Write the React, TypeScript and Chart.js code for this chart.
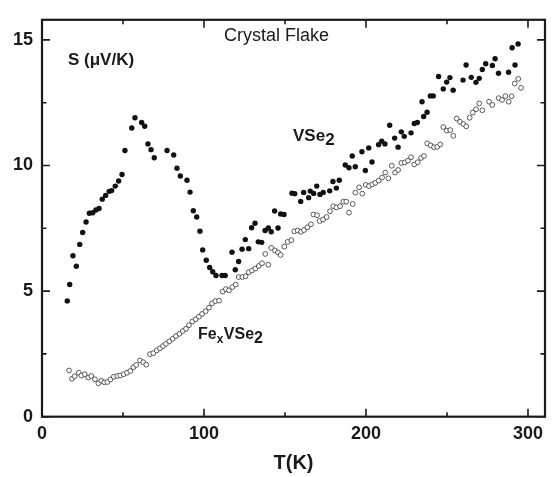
import React, { useEffect, useRef } from "react";
import { Chart, registerables } from "chart.js";
Chart.register(...registerables);

// VSe2 (filled circles)
const vse2T = [15.6,17.1,19.1,21.2,23.3,25.1,27.2,29.2,31.3,33.3,35.2,37.2,39.3,41.5,43.0,45.2,47.3,49.4,51.2,55.4,57.4,61.5,63.4,65.4,67.3,69.3,77.2,81.3,83.3,85.4,89.5,91.4,93.4,95.5,97.5,99.2,101.4,103.5,105.4,107.4,111.1,113.1,117.3,119.3,121.4,123.5,125.5,127.6,129.4,131.5,133.5,135.6,137.7,139.7,141.5,143.6,145.7,147.3,149.4,154.3,156.0,159.7,161.5,164.6,165.6,167.7,169.6,171.6,173.6,177.6,179.6,181.7,183.5,187.2,189.5,191.5,193.4,197.5,199.6,201.7,203.7,207.8,209.7,211.7,214.6,217.7,219.8,221.8,223.6,227.8,229.8,231.7,234.6,235.6,237.7,239.7,241.5,244.8,247.7,249.8,251.8,253.8,259.9,261.8,265.0,267.9,269.9,271.8,273.9,278.0,279.7,281.8,288.0,290.2,292.0,293.9];
const vse2S = [4.61,5.26,6.41,5.99,6.86,7.33,7.75,8.10,8.12,8.23,8.29,8.66,8.81,8.97,9.00,9.18,9.38,9.64,10.60,11.49,11.90,11.71,11.56,10.86,10.63,10.31,10.60,10.42,9.89,9.58,9.41,8.94,8.20,7.95,7.38,6.64,6.23,5.94,5.77,5.62,5.62,5.62,6.55,5.85,6.18,6.67,7.05,6.69,7.52,7.70,6.96,6.94,7.41,7.51,7.36,8.19,7.51,8.07,8.05,8.90,8.88,8.57,8.93,8.72,8.98,8.89,9.18,8.85,8.93,8.99,9.36,9.10,9.41,10.02,9.91,10.38,9.95,10.55,9.80,10.70,10.14,10.83,10.97,10.86,11.60,11.09,10.73,11.34,11.16,11.30,11.67,11.71,12.54,11.95,12.12,12.77,12.77,13.54,13.05,13.32,13.50,13.00,13.40,14.00,13.51,13.31,13.47,13.82,14.05,13.98,14.25,13.67,13.71,14.69,14.00,14.84];

// FexVSe2 (open circles)
const fexT = [16.7,18.5,20.2,22.7,24.3,26.4,28.6,30.4,32.7,34.8,36.6,38.5,40.3,42.2,44.3,46.5,48.3,50.4,52.5,54.5,56.4,58.2,60.5,62.5,64.4,66.7,68.7,70.8,72.8,74.7,76.5,78.6,80.7,82.7,84.8,86.9,88.9,90.7,92.8,94.9,96.9,98.8,101.0,103.1,104.9,107.0,109.3,111.5,113.5,115.4,117.5,119.6,121.4,123.7,125.7,127.6,129.6,131.7,133.8,135.8,137.8,139.7,141.5,143.8,145.7,147.3,149.6,151.7,153.9,155.7,157.8,159.9,161.7,163.8,166.0,167.5,169.8,171.4,173.5,175.7,177.8,179.8,181.7,184.0,186.0,187.8,189.5,191.8,193.4,195.8,197.7,199.8,201.9,203.9,205.7,207.8,209.9,211.9,213.8,215.9,217.9,219.8,221.8,223.9,225.9,227.8,229.8,231.9,234.0,235.8,237.8,239.9,242.0,244.0,245.9,247.7,249.8,252.0,253.9,256.0,258.0,260.1,261.9,264.0,265.9,267.9,269.9,271.8,276.0,278.0,281.9,284.0,286.0,288.1,289.9,291.8,294.0,295.7];
const fexS = [1.84,1.51,1.61,1.75,1.64,1.69,1.56,1.62,1.49,1.33,1.43,1.37,1.38,1.48,1.59,1.62,1.64,1.69,1.75,1.82,1.97,2.06,2.24,2.17,2.07,2.49,2.53,2.64,2.72,2.81,2.90,3.00,3.10,3.21,3.30,3.41,3.50,3.64,3.79,3.88,3.98,4.09,4.20,4.34,4.51,4.60,4.62,4.98,5.08,5.03,5.16,5.26,5.56,5.56,5.59,5.75,5.82,5.90,6.00,6.11,6.48,6.05,6.72,6.62,6.54,6.44,6.77,6.96,7.03,7.38,7.41,7.36,7.43,7.54,7.66,8.05,8.02,7.79,7.85,7.95,8.18,8.38,8.33,8.38,8.56,8.56,8.12,8.47,8.92,9.13,8.88,9.23,9.18,9.25,9.31,9.40,9.52,9.72,9.49,9.99,9.72,9.82,10.10,10.12,10.19,10.33,10.04,10.13,10.30,10.38,10.88,10.80,10.73,10.74,10.84,11.53,11.39,11.41,11.18,11.87,11.74,11.65,11.56,11.90,12.11,12.24,12.47,12.20,12.54,12.41,12.68,12.61,12.76,12.54,12.76,13.26,13.45,13.09];

const xTicks = [0, 100, 200, 300];
const xMinorTicks = [50, 150, 250];
const yTicks = [0, 5, 10, 15];
const yMinorTicks = [2.5, 7.5, 12.5];

const FONT = "'Liberation Sans', Arial, Helvetica, sans-serif";
const INK = "#1a1a1a";

const framePlugin = {
  id: "frameTicks",
  afterDraw(chart: any) {
    const { ctx, chartArea: a, scales } = chart;
    const xs = scales.x, ys = scales.y;
    ctx.save();
    ctx.strokeStyle = INK;
    ctx.lineWidth = 2.2;
    ctx.strokeRect(a.left, a.top, a.right - a.left, a.bottom - a.top);
    ctx.lineWidth = 1.6;
    const xt = (vals: number[], len: number) => {
      vals.forEach((v) => {
        const p = xs.getPixelForValue(v);
        ctx.beginPath();
        ctx.moveTo(p, a.bottom);
        ctx.lineTo(p, a.bottom - len);
        ctx.moveTo(p, a.top);
        ctx.lineTo(p, a.top + len);
        ctx.stroke();
      });
    };
    const yt = (vals: number[], len: number) => {
      vals.forEach((v) => {
        const p = ys.getPixelForValue(v);
        ctx.beginPath();
        ctx.moveTo(a.left, p);
        ctx.lineTo(a.left + len, p);
        ctx.moveTo(a.right, p);
        ctx.lineTo(a.right - len, p);
        ctx.stroke();
      });
    };
    xt(xTicks, 8);
    xt(xMinorTicks, 4.5);
    yt(yTicks, 8);
    yt(yMinorTicks, 4.5);
    ctx.restore();
  },
};

const textPlugin = {
  id: "annotText",
  afterDraw(chart: any) {
    const { ctx } = chart;
    ctx.save();
    ctx.fillStyle = INK;
    ctx.textBaseline = "alphabetic";
    ctx.textAlign = "left";
    // Y-axis quantity label
    ctx.font = `bold 17px ${FONT}`;
    ctx.fillText("S (\u03BCV/K)", 68, 65);
    // Title-like label
    ctx.font = `18px ${FONT}`;
    ctx.fillText("Crystal Flake", 224, 41);
    // VSe2
    ctx.font = `bold 17px ${FONT}`;
    let x = 293;
    ctx.fillText("VSe", x, 141);
    x += ctx.measureText("VSe").width;
    ctx.fillText("2", x, 145);
    // FexVSe2
    ctx.font = `bold 16px ${FONT}`;
    x = 198;
    ctx.fillText("Fe", x, 339);
    x += ctx.measureText("Fe").width;
    ctx.font = `bold 12px ${FONT}`;
    ctx.fillText("x", x, 343);
    x += ctx.measureText("x").width + 0.5;
    ctx.font = `bold 16px ${FONT}`;
    ctx.fillText("VSe", x, 339);
    x += ctx.measureText("VSe").width;
    ctx.fillText("2", x, 343);
    ctx.restore();
  },
};

export default function App() {
  const ref = useRef<HTMLCanvasElement | null>(null);
  useEffect(() => {
    if (!ref.current) return;
    const chart = new Chart(ref.current, {
      type: "scatter",
      data: {
        datasets: [
          {
            label: "FexVSe2",
            data: fexT.map((t, i) => ({ x: t, y: fexS[i] })),
            pointRadius: 2.4,
            pointBackgroundColor: "#ffffff",
            pointBorderColor: "#333333",
            pointBorderWidth: 0.8,
          },
          {
            label: "VSe2",
            data: vse2T.map((t, i) => ({ x: t, y: vse2S[i] })),
            pointRadius: 2.7,
            pointBackgroundColor: "#111111",
            pointBorderColor: "#111111",
            pointBorderWidth: 0,
          },
        ],
      },
      options: {
        animation: false,
        responsive: false,
        events: [],
        layout: { padding: { top: 5, right: 12, left: 0, bottom: 0 } },
        plugins: { legend: { display: false }, tooltip: { enabled: false } },
        scales: {
          x: {
            type: "linear",
            min: 0,
            max: 310.5,
            grid: { display: false, drawTicks: false },
            border: { display: false },
            afterBuildTicks: (s: any) => {
              s.ticks = xTicks.map((v) => ({ value: v }));
            },
            afterFit: (s: any) => {
              s.height = 60.3;
            },
            ticks: {
              padding: 7,
              color: INK,
              font: { family: FONT, size: 18, weight: "bold" },
              maxRotation: 0,
            },
            title: {
              display: true,
              text: "T(K)",
              color: INK,
              font: { family: FONT, size: 20, weight: "bold" },
              padding: { top: 0, bottom: 2 },
            },
          },
          y: {
            type: "linear",
            min: 0,
            max: 15.8,
            grid: { display: false, drawTicks: false },
            border: { display: false },
            afterBuildTicks: (s: any) => {
              s.ticks = yTicks.map((v) => ({ value: v }));
            },
            afterFit: (s: any) => {
              s.width = 42;
            },
            ticks: {
              padding: 9,
              color: INK,
              font: { family: FONT, size: 18, weight: "bold" },
            },
          },
        },
      },
      plugins: [framePlugin, textPlugin],
    });
    return () => chart.destroy();
  }, []);
  return (
    <div style={{ position: "absolute", left: 0, top: 0, width: 557, height: 477, background: "#fff" }}>
      <canvas ref={ref} width={557} height={477} />
    </div>
  );
}
